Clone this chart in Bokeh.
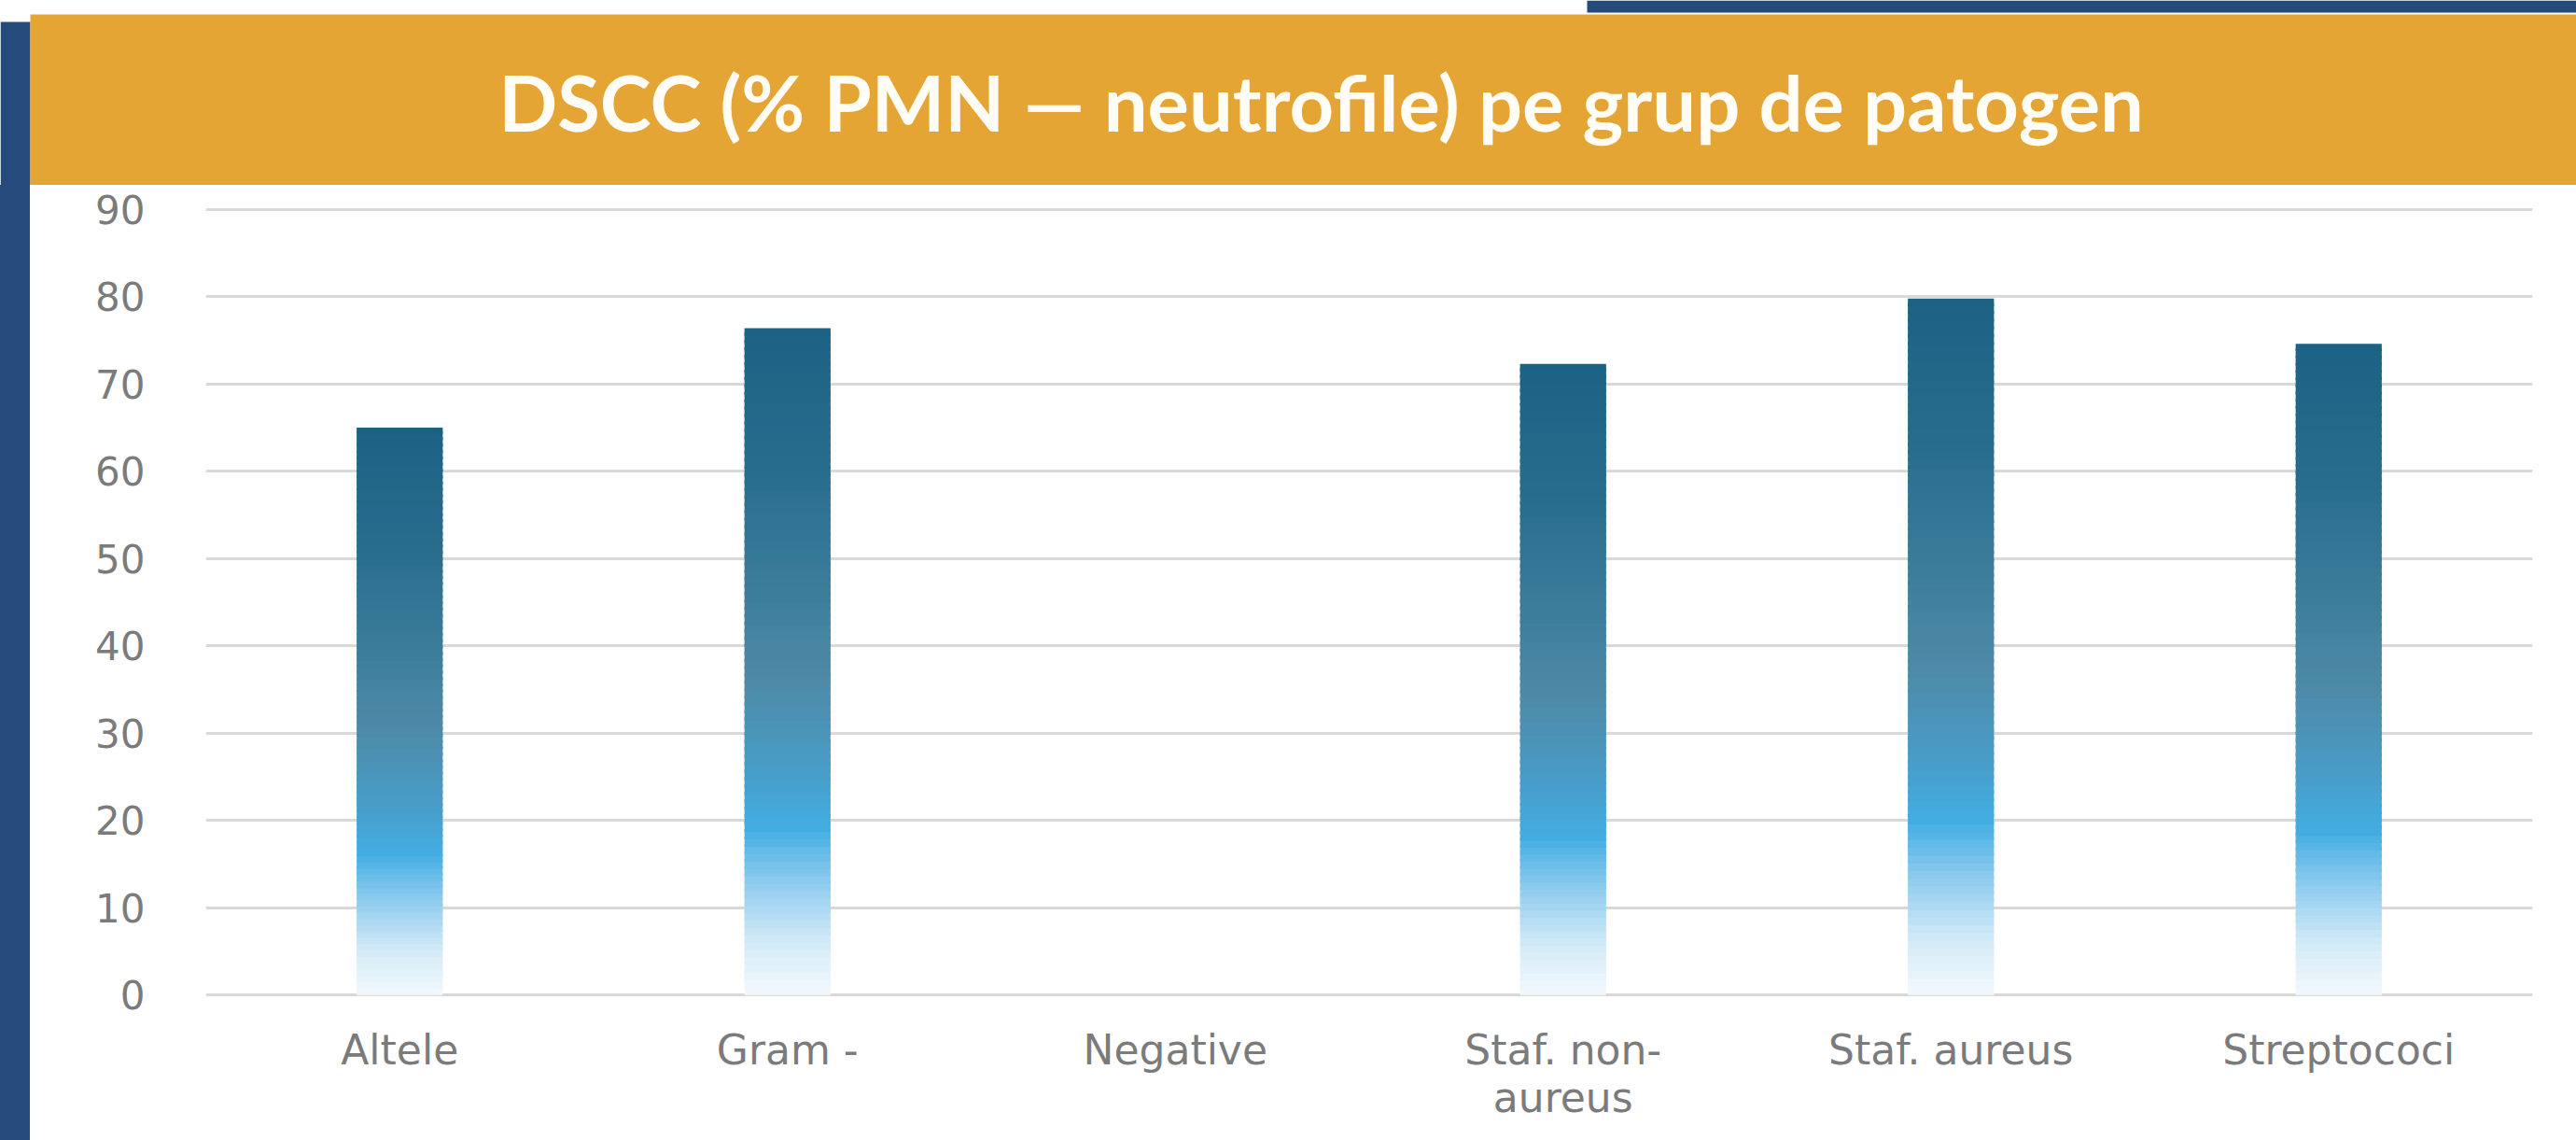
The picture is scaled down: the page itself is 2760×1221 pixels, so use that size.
from bokeh.plotting import figure
from bokeh.layouts import column, row
from bokeh.models import FactorRange, Range1d, FixedTicker, Div
from bokeh.embed import file_html
from bokeh.resources import INLINE
from bokeh.core.properties import value

# ---------------- data ----------------
categories = ["Altele", "Gram -", "Negative", "Staf. non-\naureus", "Staf. aureus", "Streptococi"]
pmn_values = [65.0, 76.4, 0.0, 72.3, 79.8, 74.6]
y_ticks = [0, 10, 20, 30, 40, 50, 60, 70, 80, 90]
title_text = "DSCC (% PMN \u2014 neutrofile) pe grup de patogen"

# gradient stops (fraction of bar height from the bottom -> colour)
grad_pos = [0.0, 0.08, 0.17, 0.25, 0.34, 0.47, 0.62, 0.80, 1.0]
grad_col = ["#f3f9fd", "#d3eaf7", "#8ccbee", "#43ade2", "#489cc7",
            "#4e8aa8", "#3b7c9b", "#276c8c", "#1b6284"]

# ---------------- style ----------------
W, H = 2760, 1221
HEAD_H = 198
SIDE_W = 32
ORANGE = "#e5a535"
NAVY = "#264a7c"
GRID = "#d9d9d9"
LABEL = "#7b7b7b"
N_SEG = 90


def hex2rgb(h):
    h = h.lstrip("#")
    return tuple(int(h[i:i + 2], 16) for i in (0, 2, 4))


def interp(f):
    for i in range(len(grad_pos) - 1):
        if grad_pos[i] <= f <= grad_pos[i + 1]:
            t = (f - grad_pos[i]) / (grad_pos[i + 1] - grad_pos[i])
            a, b = hex2rgb(grad_col[i]), hex2rgb(grad_col[i + 1])
            c = [round(a[k] + (b[k] - a[k]) * t) for k in range(3)]
            return "#%02x%02x%02x" % tuple(c)
    return grad_col[-1]


# ---------------- header (slide title bar) ----------------
head = figure(width=W, height=HEAD_H, x_range=Range1d(0, W), y_range=Range1d(HEAD_H, 0),
              x_axis_type=None, y_axis_type=None,
              output_backend="svg", toolbar_location=None,
              min_border=0, min_border_left=0, min_border_right=0,
              min_border_top=0, min_border_bottom=0)
head.outline_line_color = None
head.xgrid.grid_line_color = None
head.ygrid.grid_line_color = None
head.background_fill_color = "white"
head.border_fill_color = "white"
head.quad(left=[1700], right=[W], top=[0], bottom=[13], fill_color=NAVY, line_color=None)
head.quad(left=[0], right=[SIDE_W], top=[23], bottom=[HEAD_H], fill_color=NAVY, line_color=None)
head.quad(left=[SIDE_W], right=[W], top=[15], bottom=[HEAD_H], fill_color=ORANGE, line_color=None)
head.text(x=[1415], y=[108], text=[title_text], text_align="center", text_baseline="alphabetic",
          text_font=value("Lato"), text_font_style="bold", text_font_size="83px",
          text_color="#fffdf6")

# ---------------- left navy strip ----------------
CW, CH = W - SIDE_W, H - HEAD_H
side = Div(text="", width=SIDE_W, height=CH, margin=(0, 0, 0, 0),
           styles={"background-color": NAVY})

# ---------------- chart ----------------
p = figure(width=CW, height=CH,
           x_range=FactorRange(*categories),
           y_range=Range1d(-0.2, 90.2),
           output_backend="svg", toolbar_location=None,
           min_border_left=188, min_border_right=47,
           min_border_top=24, min_border_bottom=154)
p.outline_line_color = None
p.background_fill_color = "white"
p.border_fill_color = "white"

# gradient bars built from stacked segments of each value
seg_x, seg_b, seg_t, seg_c = [], [], [], []
for cat, v in zip(categories, pmn_values):
    if v <= 0:
        continue
    for i in range(N_SEG):
        f0 = i / N_SEG
        f1 = (i + 1) / N_SEG
        seg_x.append(cat)
        seg_b.append(v * f0)
        seg_t.append(min(v, v * f1 + v * 0.4 / N_SEG))
        seg_c.append(interp((f0 + f1) / 2))
p.vbar(x=seg_x, bottom=seg_b, top=seg_t, width=0.222,
       fill_color=seg_c, line_color=None)

p.xgrid.grid_line_color = None
p.ygrid.grid_line_color = GRID
p.ygrid.grid_line_width = 3
p.yaxis.ticker = FixedTicker(ticks=y_ticks)
for ax in (p.xaxis[0], p.yaxis[0]):
    ax.axis_line_color = None
    ax.major_tick_line_color = None
    ax.minor_tick_line_color = None
    ax.major_tick_out = 0
    ax.major_tick_in = 0
    ax.major_label_text_color = LABEL
    ax.major_label_text_font = "DejaVu Sans"
p.xaxis.major_label_text_font_size = "44px"
p.yaxis.major_label_text_font_size = "42px"
p.yaxis.major_label_standoff = 65
p.xaxis.major_label_standoff = 31
p.xaxis.major_label_text_line_height = 1.0

layout = column(head, row(side, p, spacing=0), spacing=0)

open("out.html", "w").write(file_html(layout, INLINE))
